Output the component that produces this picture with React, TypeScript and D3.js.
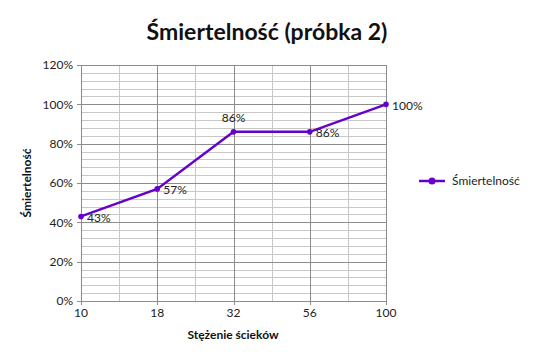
import { useEffect, useRef } from 'react';
import * as d3 from 'd3';

const categories = ['10', '18', '32', '56', '100'];
const values = [0.43, 0.57, 0.86, 0.86, 1.0];
const labels = ['43%', '57%', '86%', '86%', '100%'];
const labelPos = ['right', 'right', 'top', 'right', 'right'];
const yTicks = [0, 0.2, 0.4, 0.6, 0.8, 1.0, 1.2];

const LINE_COLOR = '#6600cc';
const FONT = 'Lato, "Open Sans", sans-serif';

const App = () => {
  const svgRef = useRef<SVGSVGElement>(null);

  useEffect(() => {
    const svg = d3.select(svgRef.current);
    svg.selectAll('*').remove();

    const margin = { top: 65, left: 81 };
    const width = 305;
    const height = 236;

    const g = svg.append('g').attr('transform', `translate(${margin.left},${margin.top})`);

    const x = d3.scalePoint().domain(categories).range([0, width]);
    const y = d3.scaleLinear().domain([0, 1.2]).range([height, 0]);

    // minor horizontal gridlines (every 4%)
    const minor = d3.range(0, 1.2001, 0.04);
    g.selectAll('.hminor')
      .data(minor)
      .enter()
      .append('line')
      .attr('x1', 0)
      .attr('x2', width)
      .attr('y1', (d) => Math.round(y(d)) + 0.5)
      .attr('y2', (d) => Math.round(y(d)) + 0.5)
      .attr('stroke', '#c8c8c8')
      .attr('stroke-width', 1);

    // minor vertical gridlines between categories
    const step = x.step();
    const vminor = categories.slice(0, -1).map((c) => (x(c) as number) + step / 2);
    g.selectAll('.vminor')
      .data(vminor)
      .enter()
      .append('line')
      .attr('x1', (d) => Math.round(d) + 0.5)
      .attr('x2', (d) => Math.round(d) + 0.5)
      .attr('y1', 0)
      .attr('y2', height)
      .attr('stroke', '#c8c8c8');

    // major horizontal gridlines
    g.selectAll('.hmajor')
      .data(yTicks)
      .enter()
      .append('line')
      .attr('x1', -4)
      .attr('x2', width)
      .attr('y1', (d) => Math.round(y(d)) + 0.5)
      .attr('y2', (d) => Math.round(y(d)) + 0.5)
      .attr('stroke', '#8c8c8c');

    // major vertical gridlines
    g.selectAll('.vmajor')
      .data(categories)
      .enter()
      .append('line')
      .attr('x1', (d) => Math.round(x(d) as number) + 0.5)
      .attr('x2', (d) => Math.round(x(d) as number) + 0.5)
      .attr('y1', 0)
      .attr('y2', height + 4)
      .attr('stroke', '#8c8c8c');

    // y tick labels
    g.selectAll('.ytick')
      .data(yTicks)
      .enter()
      .append('text')
      .attr('x', -8)
      .attr('y', (d) => y(d))
      .attr('dy', '0.35em')
      .attr('text-anchor', 'end')
      .style('font-family', FONT)
      .style('font-size', '12px')
      .style('fill', '#222')
      .text((d) => `${Math.round(d * 100)}%`);

    // x tick labels
    g.selectAll('.xtick')
      .data(categories)
      .enter()
      .append('text')
      .attr('x', (d) => x(d) as number)
      .attr('y', height + 16)
      .attr('text-anchor', 'middle')
      .style('font-family', FONT)
      .style('font-size', '12px')
      .style('fill', '#222')
      .text((d) => d);

    const data = categories.map((c, i) => ({ c, v: values[i], label: labels[i], pos: labelPos[i] }));

    const line = d3
      .line<{ c: string; v: number }>()
      .x((d) => x(d.c) as number)
      .y((d) => y(d.v));

    g.append('path')
      .datum(data)
      .attr('fill', 'none')
      .attr('stroke', LINE_COLOR)
      .attr('stroke-width', 2.5)
      .attr('d', line);

    g.selectAll('.pt')
      .data(data)
      .enter()
      .append('circle')
      .attr('cx', (d) => x(d.c) as number)
      .attr('cy', (d) => y(d.v))
      .attr('r', 2.8)
      .attr('fill', LINE_COLOR);

    g.selectAll('.lbl')
      .data(data)
      .enter()
      .append('text')
      .attr('x', (d) => (x(d.c) as number) + (d.pos === 'top' ? 0 : 6))
      .attr('y', (d) => y(d.v) + (d.pos === 'top' ? -10 : 0))
      .attr('dy', (d) => (d.pos === 'top' ? '0' : '0.45em'))
      .attr('text-anchor', (d) => (d.pos === 'top' ? 'middle' : 'start'))
      .style('font-family', FONT)
      .style('font-size', '12px')
      .style('fill', '#222')
      .text((d) => d.label);

    // title
    svg
      .append('text')
      .attr('x', 267)
      .attr('y', 40)
      .attr('text-anchor', 'middle')
      .style('font-family', FONT)
      .style('font-size', '23px')
      .style('font-weight', 'bold')
      .style('fill', '#111')
      .text('Śmiertelność (próbka 2)');

    // axis titles
    svg
      .append('text')
      .attr('x', 233)
      .attr('y', 339)
      .attr('text-anchor', 'middle')
      .style('font-family', FONT)
      .style('font-size', '12px')
      .style('font-weight', 'bold')
      .style('fill', '#111')
      .text('Stężenie ścieków');

    svg
      .append('text')
      .attr('transform', 'translate(31,183) rotate(-90)')
      .attr('text-anchor', 'middle')
      .style('font-family', FONT)
      .style('font-size', '12px')
      .style('font-weight', 'bold')
      .style('fill', '#111')
      .text('Śmiertelność');

    // legend
    const lg = svg.append('g').attr('transform', 'translate(419,181)');
    lg.append('line')
      .attr('x1', 0)
      .attr('x2', 26)
      .attr('y1', 0)
      .attr('y2', 0)
      .attr('stroke', LINE_COLOR)
      .attr('stroke-width', 2.5);
    lg.append('circle').attr('cx', 13).attr('cy', 0).attr('r', 3.5).attr('fill', LINE_COLOR);
    lg.append('text')
      .attr('x', 33)
      .attr('y', 0)
      .attr('dy', '0.35em')
      .style('font-family', FONT)
      .style('font-size', '12px')
      .style('fill', '#222')
      .text('Śmiertelność');
  }, []);

  return (
    <svg
      ref={svgRef}
      width={533}
      height={362}
      style={{ position: 'absolute', left: 0, top: 0, background: '#fff' }}
    />
  );
};

export default App;
